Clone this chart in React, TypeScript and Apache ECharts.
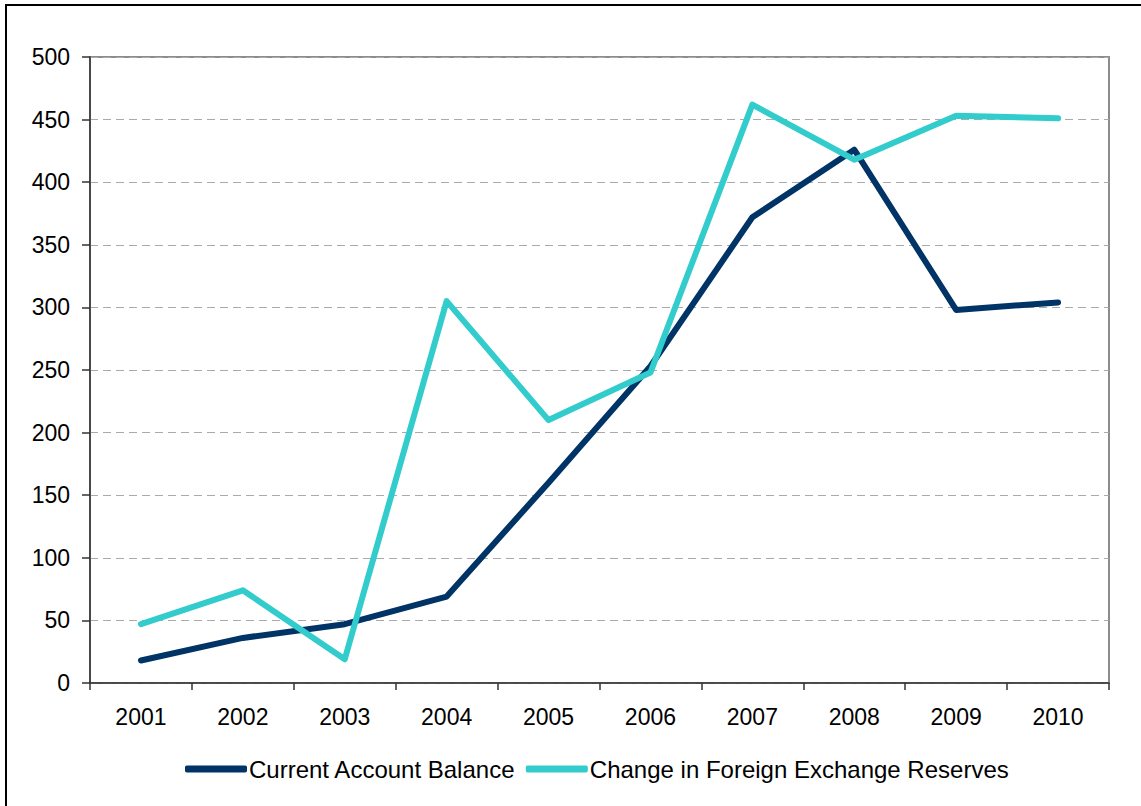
import React, { useEffect, useRef } from "react";
import * as echarts from "echarts";

const years = ["2001", "2002", "2003", "2004", "2005", "2006", "2007", "2008", "2009", "2010"];
const currentAccount = [18, 36, 47, 69, 160, 253, 372, 426, 298, 304];
const fxReserves = [47, 74, 19, 305, 210, 248, 462, 418, 453, 451];
const seriesNames = ["Current Account Balance", "Change in Foreign Exchange Reserves"];
const colors = ["#003366", "#33CCCC"];

const FONT = "'Liberation Sans', Arial, sans-serif";

export default function App() {
  const ref = useRef<HTMLDivElement>(null);
  useEffect(() => {
    if (!ref.current) return;
    const chart = echarts.init(ref.current, null, { renderer: "svg" });
    chart.setOption({
      animation: false,
      backgroundColor: "#fff",
      textStyle: { fontFamily: FONT },
      graphic: [
        {
          type: "rect",
          shape: { x: 6, y: 5, width: 1300, height: 1000 },
          style: { fill: "none", stroke: "#000", lineWidth: 2 },
          silent: true,
        },
      ],
      grid: {
        left: 90,
        top: 57,
        right: 32,
        bottom: 123,
        show: true,
        borderColor: "#8c8c8c",
        borderWidth: 2,
      },
      legend: {
        left: 180,
        top: 752,
        itemWidth: 62,
        itemHeight: 7,
        itemGap: 10,
        icon: "roundRect",
        textStyle: { fontSize: 24, color: "#000", fontFamily: FONT, padding: [0, 0, 0, -3] },
        data: seriesNames,
      },
      xAxis: {
        type: "category",
        data: years,
        boundaryGap: true,
        axisLine: { show: true, lineStyle: { color: "#333", width: 1.5 } },
        axisTick: { show: true, length: 7, lineStyle: { color: "#333", width: 1.5 } },
        axisLabel: { fontSize: 23, color: "#000", margin: 22, fontFamily: FONT },
        splitLine: { show: false },
      },
      yAxis: {
        type: "value",
        min: 0,
        max: 500,
        interval: 50,
        axisLine: { show: true, lineStyle: { color: "#333", width: 1.5 } },
        axisTick: { show: true, length: 8, lineStyle: { color: "#333", width: 1.5 } },
        axisLabel: { fontSize: 23, color: "#000", margin: 20, fontFamily: FONT },
        splitLine: { show: true, lineStyle: { color: "#aaa", type: [8, 5], width: 1 } },
      },
      series: [
        {
          name: seriesNames[0],
          type: "line",
          data: currentAccount,
          symbol: "none",
          color: colors[0],
          lineStyle: { width: 6, color: colors[0], cap: "round", join: "round" },
        },
        {
          name: seriesNames[1],
          type: "line",
          data: fxReserves,
          symbol: "none",
          color: colors[1],
          lineStyle: { width: 6, color: colors[1], cap: "round", join: "round" },
        },
      ],
    });
    return () => chart.dispose();
  }, []);
  return (
    <div
      ref={ref}
      style={{ position: "fixed", left: 0, top: 0, width: 1141, height: 806 }}
    />
  );
}
